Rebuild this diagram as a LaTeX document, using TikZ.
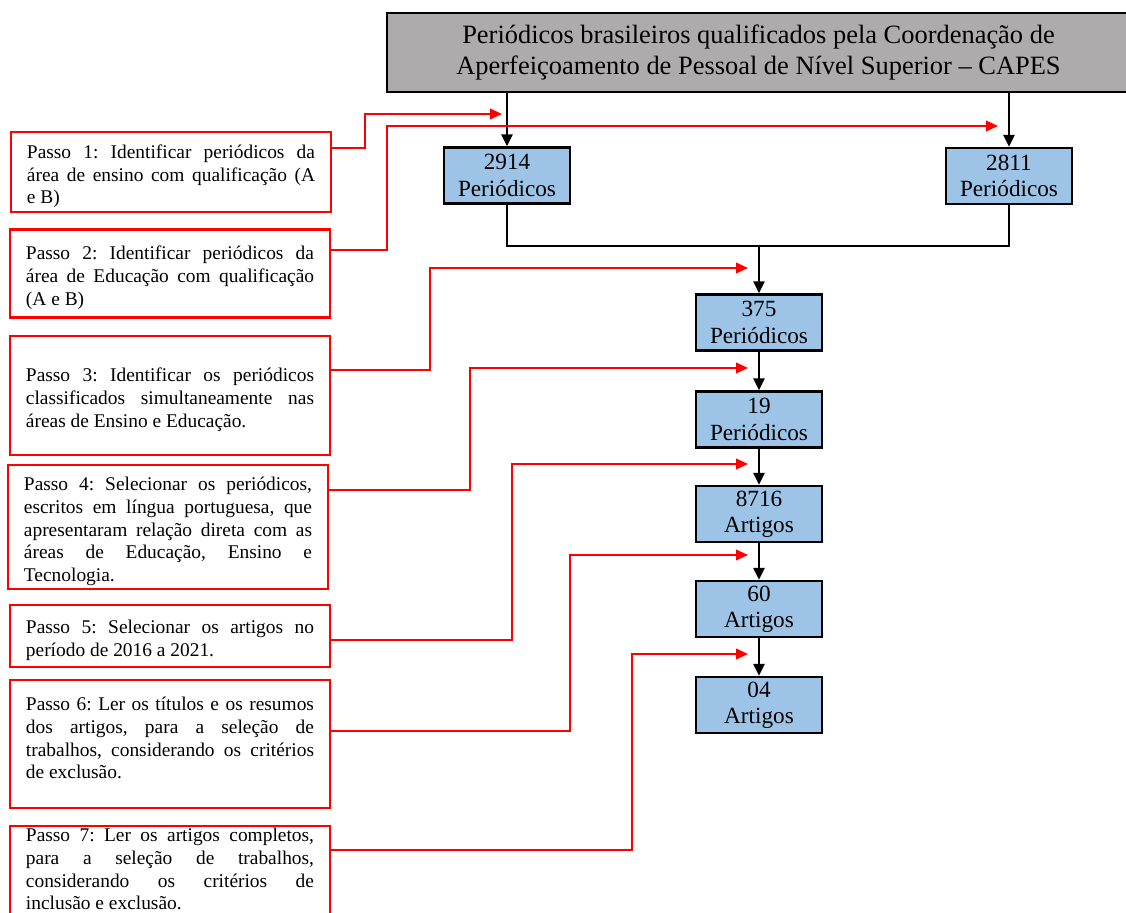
\documentclass[tikz,border=0pt]{standalone}
\usepackage{fontspec}
\setmainfont{Liberation Serif}
\usetikzlibrary{arrows.meta, positioning}
\definecolor{capesgray}{RGB}{173,171,171}
\definecolor{boxblue}{RGB}{157,195,230}
\definecolor{passored}{RGB}{255,0,0}
\tikzset{
  titlebox/.style={rectangle, draw=black, fill=capesgray, line width=1.4pt,
    minimum width=18.575cm, minimum height=1.975cm, align=center,
    font=\fontsize{18.8}{22.7}\selectfont},
  countbox/.style={rectangle, draw=black, fill=boxblue, line width=1.7pt,
    minimum width=3.15cm, minimum height=1.4cm, inner sep=0pt, align=center,
    font=\fontsize{16.5}{18.6}\selectfont},
  passobox/.style={rectangle, draw=passored, line width=1.5pt,
    text width=7.2cm, inner xsep=0.4cm, inner ysep=2pt, align=justify,
    font=\fontsize{13.8}{16.2}\selectfont\frenchspacing,
    execute at begin node={\rule{0pt}{16pt}}},
  arrow/.style={-{Triangle[length=8.5pt, width=8pt]}, line width=1.3pt, color=black},
  line/.style={line width=1.3pt, color=black},
  redarrow/.style={-{Triangle[length=8.5pt, width=7.5pt]}, line width=1.4pt, color=passored}
}
\begin{document}
\begin{tikzpicture}[x=0.025cm, y=-0.025cm]
  \useasboundingbox (0,0) rectangle (1126,913);
  % Title
  \node[titlebox] (capes) at (758.5,52.5)
    {Periódicos brasileiros qualificados pela Coordenação de\\
     Aperfeiçoamento de Pessoal de Nível Superior – CAPES};
  % Counts
  \node[countbox] (n2914) at (507,175.5) {2914\\Periódicos};
  \node[countbox] (n2811) at (1009,176) {2811\\Periódicos};
  \node[countbox] (n375) at (759,322.5) {375\\Periódicos};
  \node[countbox] (n19) at (759,419.5) {19\\Periódicos};
  \node[countbox] (n8716) at (759,514) {8716\\Artigos};
  \node[countbox] (n60) at (759,609) {60\\Artigos};
  \node[countbox] (n04) at (759,705) {04\\Artigos};
  % Black flow
  \coordinate (join) at (759,246);
  \draw[arrow] (capes.south -| n2914.north) -- (n2914.north);
  \draw[arrow] (capes.south -| n2811.north) -- (n2811.north);
  \draw[line] (n2914.south) |- (join) -| (n2811.south);
  \draw[arrow] (join) -- (n375.north);
  \draw[arrow] (n375) -- (n19);
  \draw[arrow] (n19) -- (n8716);
  \draw[arrow] (n8716) -- (n60);
  \draw[arrow] (n60) -- (n04);
  % Steps
  \node[passobox, minimum height=2cm] (p1) at (171,172)
    {Passo 1: Identificar periódicos da\linebreak área de ensino com qualificação (A\linebreak e B)};
  \node[passobox, minimum height=2.2cm] (p2) at (170,273.5)
    {Passo 2: Identificar periódicos da\linebreak área de Educação com qualificação\linebreak (A e B)};
  \node[passobox, minimum height=2.975cm] (p3) at (170,395.5)
    {Passo 3: Identificar os periódicos\linebreak classificados simultaneamente nas\linebreak áreas de Ensino e Educação.};
  \node[passobox, minimum height=3cm] (p4) at (168,527)
    {Passo 4: Selecionar os periódicos,\linebreak escritos em língua portuguesa, que\linebreak apresentaram relação direta com as\linebreak áreas de Educação, Ensino e\linebreak Tecnologia.};
  \node[passobox, minimum height=1.55cm] (p5) at (170,636)
    {Passo 5: Selecionar os artigos no\linebreak período de 2016 a 2021.};
  \node[passobox, minimum height=3.2cm] (p6) at (170,744)
    {Passo 6: Ler os títulos e os resumos\linebreak dos artigos, para a seleção de\linebreak trabalhos, considerando os critérios\linebreak de exclusão.\rule[-15pt]{0pt}{0pt}};
  \node[passobox, anchor=north, inner ysep=-5pt, execute at begin node={}] (p7) at (170,825)
    {Passo 7: Ler os artigos completos,\linebreak para a seleção de trabalhos,\linebreak considerando os critérios de\linebreak inclusão e exclusão.\rule[-24pt]{0pt}{0pt}};
  % Red step arrows
  \coordinate (t1) at (502,114);
  \coordinate (t2) at (998,126);
  \coordinate (t3) at (748,268);
  \coordinate (t4) at (748,368);
  \coordinate (t5) at (748,464);
  \coordinate (t6) at (748,555);
  \coordinate (t7) at (748,654);
  \draw[redarrow] (p1.east |- 0,148) -| (365,114) -- (t1);
  \draw[redarrow] (p2.east |- 0,250) -| (387,126) -- (t2);
  \draw[redarrow] (p3.east |- 0,370) -| (430,268) -- (t3);
  \draw[redarrow] (p4.east |- 0,490) -| (470,368) -- (t4);
  \draw[redarrow] (p5.east |- 0,640) -| (512,464) -- (t5);
  \draw[redarrow] (p6.east |- 0,731) -| (570,555) -- (t6);
  \draw[redarrow] (p7.east |- 0,850) -| (632,654) -- (t7);
\end{tikzpicture}
\end{document}
